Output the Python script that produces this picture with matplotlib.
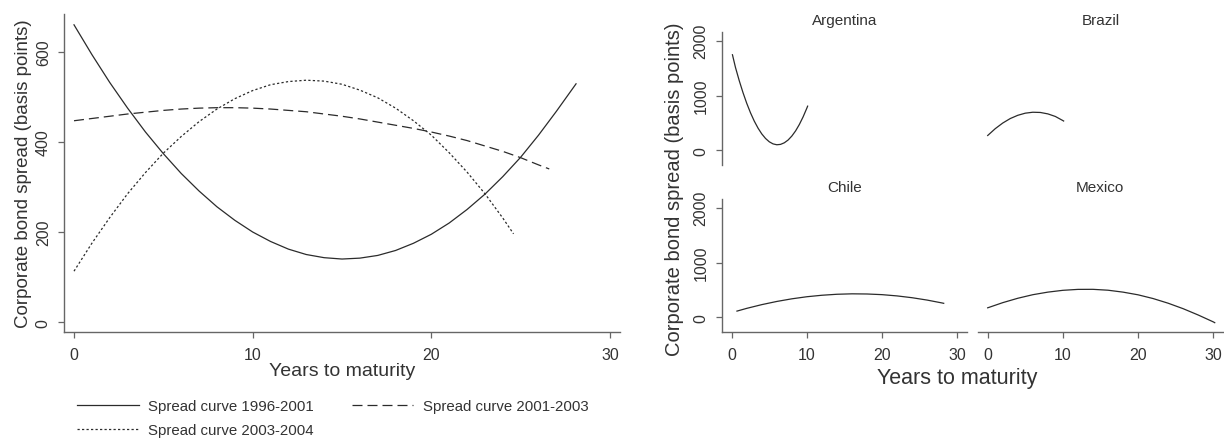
import matplotlib.pyplot as plt

plt.rcParams['font.family'] = ['Liberation Sans', 'DejaVu Sans']

# --- left panel: spread curves by period (basis points vs years to maturity)
yrs_9601 = [0, 1, 2, 3, 4, 5, 6, 7, 8, 9, 10, 11, 12, 13, 14, 15, 16, 17, 18, 19,
            20, 21, 22, 23, 24, 25, 26, 27, 28.1]
spr_9601 = [660, 594, 532, 475, 422, 374, 330, 291, 256, 226, 200, 179, 162, 150, 143, 140,
            142, 148, 159, 175, 195, 220, 250, 284, 323, 366, 415, 468, 529]

yrs_0103 = [0, 1, 2, 3, 4, 5, 6, 7, 8, 9, 10, 11, 12, 13, 14, 15, 16, 17, 18, 19,
            20, 21, 22, 23, 24, 25, 26, 26.6]
spr_0103 = [447, 452, 457, 462, 466, 470, 473, 475, 476, 476, 475, 473, 470, 467, 462, 457,
            451, 444, 437, 430, 422, 413, 403, 391, 379, 365, 349, 340]

yrs_0304 = [0, 1, 2, 3, 4, 5, 6, 7, 8, 9, 10, 11, 12, 13, 14, 15, 16, 17, 18, 19,
            20, 21, 22, 23, 24, 24.6]
spr_0304 = [113, 175, 232, 285, 332, 375, 412, 445, 473, 496, 514, 527, 534, 537, 535, 528,
            515, 498, 475, 447, 415, 376, 333, 285, 231, 196]

legend_labels = ['Spread curve 1996-2001', 'Spread curve 2001-2003', 'Spread curve 2003-2004']

# --- right panels: by country
countries = ['Argentina', 'Brazil', 'Chile', 'Mexico']
yrs_arg = [0.1, 0.5, 1, 1.5, 2, 2.5, 3, 3.5, 4, 4.5, 5, 5.5, 6, 6.5, 7, 7.5, 8, 8.5,
           9, 9.5, 10, 10.1]
spr_arg = [1745, 1515, 1274, 1056, 860, 687, 536, 408, 302, 219, 158, 120, 104, 111, 140,
           190, 263, 357, 474, 613, 773, 808]
yrs_bra = [0, 1, 2, 3, 4, 5, 6, 7, 8, 9, 10, 10.1]
spr_bra = [273, 397, 500, 582, 641, 680, 697, 693, 667, 620, 545, 537]
yrs_chi = [0.7, 2, 4, 6, 8, 10, 12, 14, 16, 18, 20, 22, 24, 26, 28, 28.2]
spr_chi = [116, 166, 234, 292, 340, 378, 405, 423, 431, 428, 416, 393, 360, 317, 264, 258]
yrs_mex = [0, 2, 4, 6, 8, 10, 12, 14, 16, 18, 20, 22, 24, 26, 28, 30, 30.2]
spr_mex = [176, 270, 350, 415, 462, 495, 512, 513, 497, 462, 413, 345, 260, 160, 45, -80, -95]

W, H = 1224, 439
TXT = '#333333'
AX = '#666666'
LN = '#2b2b2b'


def rect(x0, y0, x1, y1):
    # pixel box (from top-left) -> figure fraction
    return [x0 / W, 1 - y1 / H, (x1 - x0) / W, (y1 - y0) / H]


def style(ax, left=True, bottom=True):
    for s in ['top', 'right']:
        ax.spines[s].set_visible(False)
    ax.spines['left'].set_visible(left)
    ax.spines['bottom'].set_visible(bottom)
    for s in ['left', 'bottom']:
        ax.spines[s].set_color(AX)
        ax.spines[s].set_linewidth(1.0)
    ax.tick_params(colors=AX, labelcolor=TXT, labelsize=11.5, length=4.5, width=0.9, pad=5)
    ax.tick_params(axis='x', pad=6.5)
    if not left:
        ax.set_yticks([])
    if not bottom:
        ax.set_xticks([])


fig = plt.figure(figsize=(W / 100, H / 100), dpi=100)

# left panel
ax = fig.add_axes(rect(64, 15, 620, 333))
l1, = ax.plot(yrs_9601, spr_9601, color=LN, lw=0.9)
l2, = ax.plot(yrs_0103, spr_0103, color=LN, lw=0.9, dashes=(8, 4))
l3, = ax.plot(yrs_0304, spr_0304, color=LN, lw=0.9, dashes=(1.8, 1.8))
ax.set_xlim(-0.56, 30.56)
ax.set_ylim(-22, 684)
ax.set_xticks([0, 10, 20, 30])
ax.set_yticks([0, 200, 400, 600])
style(ax)
plt.setp(ax.get_yticklabels(), rotation=90, va='center')
ax.set_xlabel('Years to maturity', fontsize=14, color=TXT, labelpad=0)
ax.set_ylabel('Corporate bond spread (basis points)', fontsize=13.5, color=TXT, labelpad=3)

fig.legend([l1, l3, l2], [legend_labels[0], legend_labels[2], legend_labels[1]],
           ncol=2, loc='upper left', bbox_to_anchor=(77 / W, 1 - 400 / H),
           frameon=False, borderpad=0, borderaxespad=0, fontsize=10.8, handlelength=4.1,
           handletextpad=0.65, columnspacing=2.5, labelspacing=0.7, labelcolor=TXT)

# right panels
boxes = {
    'Argentina': (721.7, 33, 967, 166),
    'Brazil': (977.7, 33, 1223, 166),
    'Chile': (721.7, 200, 967, 333),
    'Mexico': (977.7, 200, 1223, 333),
}
series = {
    'Argentina': (yrs_arg, spr_arg),
    'Brazil': (yrs_bra, spr_bra),
    'Chile': (yrs_chi, spr_chi),
    'Mexico': (yrs_mex, spr_mex),
}
for c in countries:
    x0, y0, x1, y1 = boxes[c]
    a = fig.add_axes(rect(x0, y0, x1, y1))
    a.plot(series[c][0], series[c][1], color=LN, lw=0.9)
    a.set_xlim(-1.33, 31.3)
    a.set_ylim(-265, 2160)
    a.set_xticks([0, 10, 20, 30])
    a.set_yticks([0, 1000, 2000])
    style(a, left=c in ('Argentina', 'Chile'), bottom=c in ('Chile', 'Mexico'))
    plt.setp(a.get_yticklabels(), rotation=90, va='center')
    a.text(0.5, 1 + 12 / 133, c, transform=a.transAxes, ha='center', va='center',
           fontsize=11, color=TXT)

fig.text(675 / W, 1 - 189 / H, 'Corporate bond spread (basis points)', rotation=90,
         ha='center', va='center', fontsize=14.5, color=TXT)
fig.text(957 / W, 1 - 379 / H, 'Years to maturity', ha='center', va='center',
         fontsize=15.5, color=TXT)

fig.savefig('out.png', dpi=100)
